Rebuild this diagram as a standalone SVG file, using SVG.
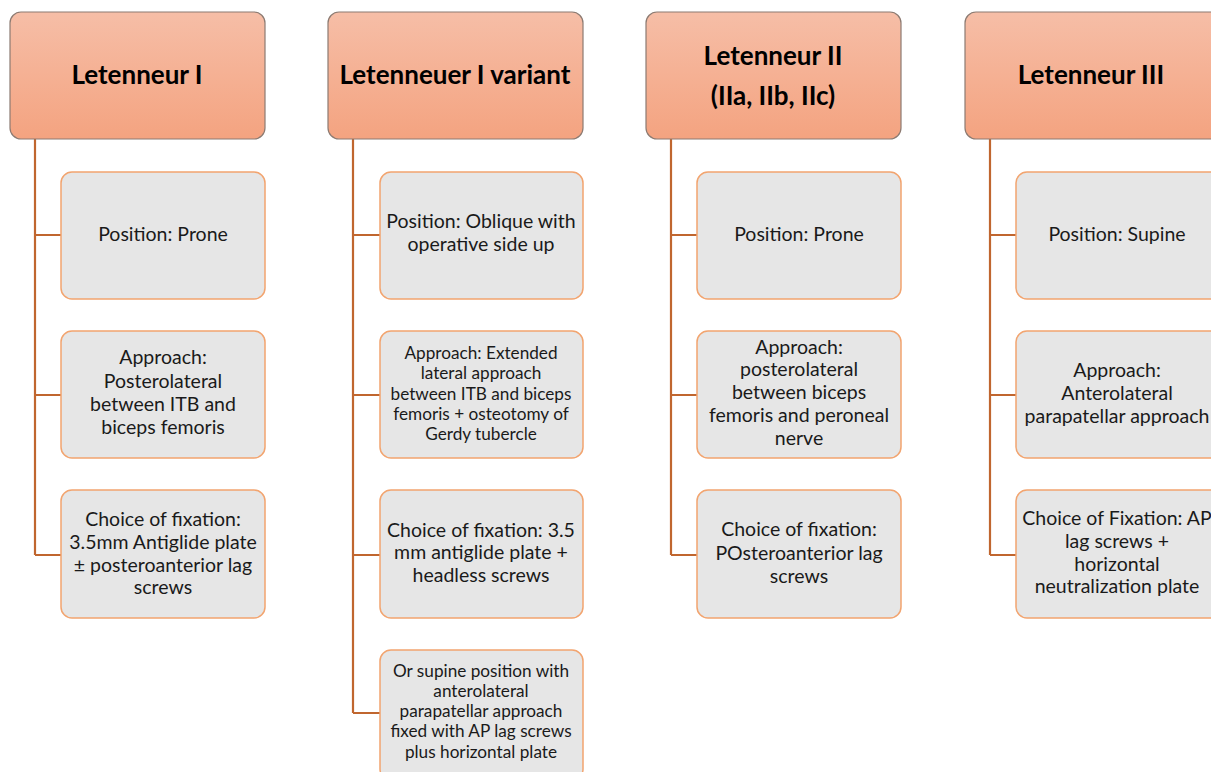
<svg xmlns="http://www.w3.org/2000/svg" width="1211" height="772" viewBox="0 0 1211 772">
<defs>
<linearGradient id="hg" x1="0" y1="0" x2="0" y2="1">
<stop offset="0" stop-color="#f6bea7"/>
<stop offset="1" stop-color="#f4a380"/>
</linearGradient>
<style>
.hd{fill:url(#hg);stroke:#8c7b72;stroke-width:1.2}
.ch{fill:#e6e6e6;stroke:#f2a46f;stroke-width:1.5}
.ht{font-family:Lato,"Open Sans","Liberation Sans",sans-serif;font-weight:bold;font-size:26px;fill:#000;text-anchor:middle}
.ct{font-family:Lato,"Open Sans","Liberation Sans",sans-serif;font-size:19.5px;fill:#1a1a1a;text-anchor:middle}
.cs{font-size:17.2px}
.cn{fill:none;stroke:#c0662f;stroke-width:2.2}
</style>
</defs>
<rect width="1211" height="772" fill="#fff"/>
<g id="connectors">
<path class="cn" d="M35 139V555M35 235H61M35 395H61M35 555H61"/>
<path class="cn" d="M353 139V713M353 235H380M353 395H380M353 555H380M353 713H380"/>
<path class="cn" d="M671 139V555M671 235H697M671 395H697M671 555H697"/>
<path class="cn" d="M990 139V555M990 235H1016M990 395H1016M990 555H1016"/>
</g>
<g id="h1"><rect class="hd" x="10" y="12" width="255" height="127" rx="11"/><text class="ht" x="137" y="84">Letenneur I</text></g>
<g id="h2"><rect class="hd" x="328" y="12" width="255" height="127" rx="11"/><text class="ht" x="455" y="84">Letenneuer I variant</text></g>
<g id="h3"><rect class="hd" x="646" y="12" width="255" height="127" rx="11"/><text class="ht" x="773" y="65">Letenneur II</text><text class="ht" x="773" y="105">(IIa, IIb, IIc)</text></g>
<g id="h4"><rect class="hd" x="965" y="12" width="260" height="127" rx="11"/><text class="ht" x="1091" y="84">Letenneur III</text></g>

<g id="c1a"><rect class="ch" x="61" y="172" width="204" height="127" rx="11"/><text class="ct" x="163" y="241">Position: Prone</text></g>
<g id="c1b"><rect class="ch" x="61" y="331" width="204" height="127" rx="11"/><text class="ct" x="163"><tspan x="163" y="364">Approach:</tspan><tspan x="163" y="388">Posterolateral</tspan><tspan x="163" y="411">between ITB and</tspan><tspan x="163" y="434">biceps femoris</tspan></text></g>
<g id="c1c"><rect class="ch" x="61" y="490" width="204" height="128" rx="11"/><text class="ct" x="163"><tspan x="163" y="526">Choice of fixation:</tspan><tspan x="163" y="549">3.5mm Antiglide plate</tspan><tspan x="163" y="572">± posteroanterior lag</tspan><tspan x="163" y="594">screws</tspan></text></g>

<g id="c2a"><rect class="ch" x="380" y="172" width="203" height="127" rx="11"/><text class="ct" x="481"><tspan x="481" y="228">Position: Oblique with</tspan><tspan x="481" y="251">operative side up</tspan></text></g>
<g id="c2b"><rect class="ch" x="380" y="331" width="203" height="127" rx="11"/><text class="ct cs" x="481"><tspan x="481" y="359">Approach: Extended</tspan><tspan x="481" y="379">lateral approach</tspan><tspan x="481" y="400">between ITB and biceps</tspan><tspan x="481" y="420">femoris + osteotomy of</tspan><tspan x="481" y="440">Gerdy tubercle</tspan></text></g>
<g id="c2c"><rect class="ch" x="380" y="490" width="203" height="128" rx="11"/><text class="ct" x="481"><tspan x="481" y="537">Choice of fixation: 3.5</tspan><tspan x="481" y="559">mm antiglide plate +</tspan><tspan x="481" y="582">headless screws</tspan></text></g>
<g id="c2d"><rect class="ch" x="380" y="650" width="203" height="130" rx="11"/><text class="ct cs" x="481"><tspan x="481" y="677">Or supine position with</tspan><tspan x="481" y="697">anterolateral</tspan><tspan x="481" y="717">parapatellar approach</tspan><tspan x="481" y="737">fixed with AP lag screws</tspan><tspan x="481" y="758">plus horizontal plate</tspan></text></g>

<g id="c3a"><rect class="ch" x="697" y="172" width="204" height="127" rx="11"/><text class="ct" x="799" y="241">Position: Prone</text></g>
<g id="c3b"><rect class="ch" x="697" y="331" width="204" height="127" rx="11"/><text class="ct" x="799"><tspan x="799" y="354">Approach:</tspan><tspan x="799" y="376">posterolateral</tspan><tspan x="799" y="399">between biceps</tspan><tspan x="799" y="422">femoris and peroneal</tspan><tspan x="799" y="445">nerve</tspan></text></g>
<g id="c3c"><rect class="ch" x="697" y="490" width="204" height="128" rx="11"/><text class="ct" x="799"><tspan x="799" y="536">Choice of fixation:</tspan><tspan x="799" y="560">POsteroanterior lag</tspan><tspan x="799" y="583">screws</tspan></text></g>

<g id="c4a"><rect class="ch" x="1016" y="172" width="210" height="127" rx="11"/><text class="ct" x="1117" y="241">Position: Supine</text></g>
<g id="c4b"><rect class="ch" x="1016" y="331" width="210" height="127" rx="11"/><text class="ct" x="1117"><tspan x="1117" y="377">Approach:</tspan><tspan x="1117" y="400">Anterolateral</tspan><tspan x="1117" y="423">parapatellar approach</tspan></text></g>
<g id="c4c"><rect class="ch" x="1016" y="490" width="210" height="128" rx="11"/><text class="ct" x="1117"><tspan x="1117" y="525">Choice of Fixation: AP</tspan><tspan x="1117" y="548">lag screws +</tspan><tspan x="1117" y="571">horizontal</tspan><tspan x="1117" y="593">neutralization plate</tspan></text></g>
</svg>
